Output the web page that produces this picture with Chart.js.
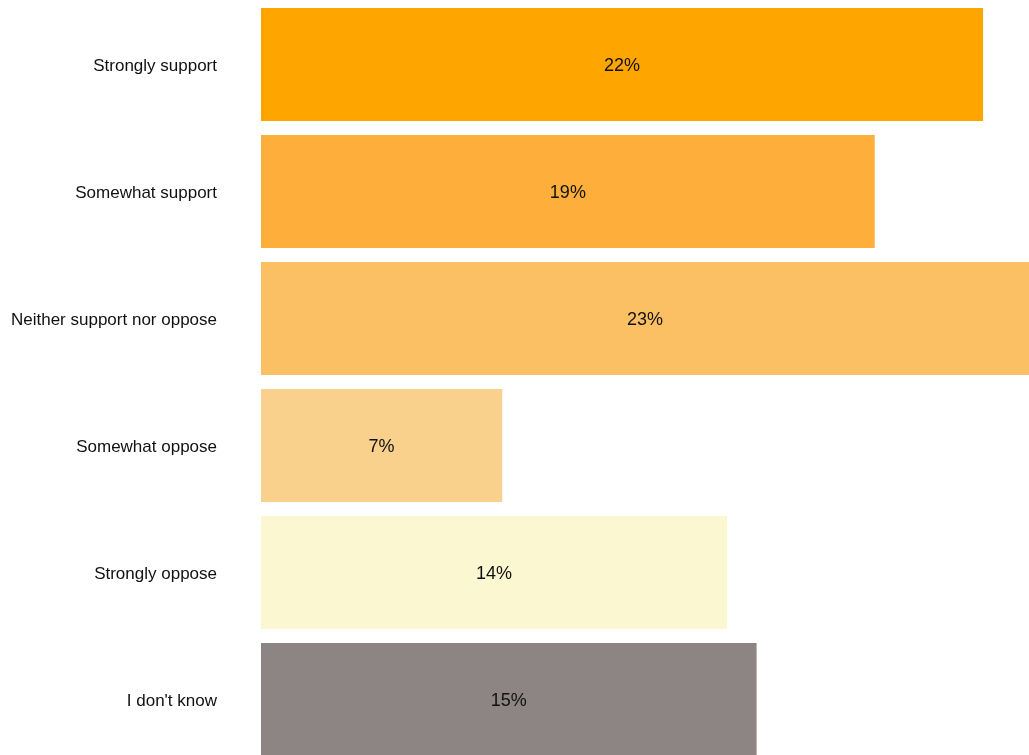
<!DOCTYPE html>
<html>
<head>
<meta charset="utf-8">
<script src="https://cdn.jsdelivr.net/npm/chart.js@4"></script>
<style>
  html, body { margin: 0; padding: 0; background: #fff; overflow: hidden; }
  #wrap { width: 1029px; height: 763px; position: relative; }
</style>
</head>
<body>
<div id="wrap"><canvas id="chart"></canvas></div>
<script>
// ---------- Data ----------
const categories = ["Strongly support", "Somewhat support", "Neither support nor oppose", "Somewhat oppose", "Strongly oppose", "I don't know"];
const shares = [22.0, 18.7, 23.4, 7.35, 14.2, 15.1];
const barColors = ["#FFA500", "#FEAE3A", "#FBC063", "#F9D08C", "#FBF7D0", "#8C8584"];

// ---------- Value labels inside bars ----------
const valueLabels = {
    id: "valueLabels",
    afterDatasetsDraw(chart) {
        const ctx = chart.ctx;
        const meta = chart.getDatasetMeta(0);
        ctx.save();
        ctx.font = "18px 'Liberation Sans', Arial, sans-serif";
        ctx.fillStyle = "#111";
        ctx.textAlign = "center";
        ctx.textBaseline = "middle";
        meta.data.forEach((bar, i) => {
            const x = (bar.base + bar.x) / 2;
            ctx.fillText(Math.round(shares[i]) + "%", x, bar.y + 2);
        });
        ctx.restore();
    }
};

new Chart(document.getElementById("chart"), {
    type: "bar",
    data: {
        labels: categories,
        datasets: [{
            data: shares,
            backgroundColor: barColors,
            borderWidth: 0,
            barPercentage: 0.89,
            categoryPercentage: 1
        }]
    },
    options: {
        indexAxis: "y",
        responsive: true,
        maintainAspectRatio: false,
        animation: false,
        layout: { padding: { top: 1, right: 0, bottom: 0, left: 0 } },
        plugins: { legend: { display: false }, tooltip: { enabled: false } },
        scales: {
            x: { display: false, min: 0, max: 23.4 },
            y: {
                grid: { display: false, drawTicks: false },
                border: { display: false },
                ticks: {
                    color: "#111",
                    padding: 44,
                    labelOffset: 2,
                    font: { family: "'Liberation Sans', Arial, sans-serif", size: 17 }
                },
                afterFit(scale) {
                    scale.width = 261;
                    scale.paddingTop = 0;
                    scale.paddingBottom = 0;
                }
            }
        }
    },
    plugins: [valueLabels]
});
</script>
</body>
</html>
